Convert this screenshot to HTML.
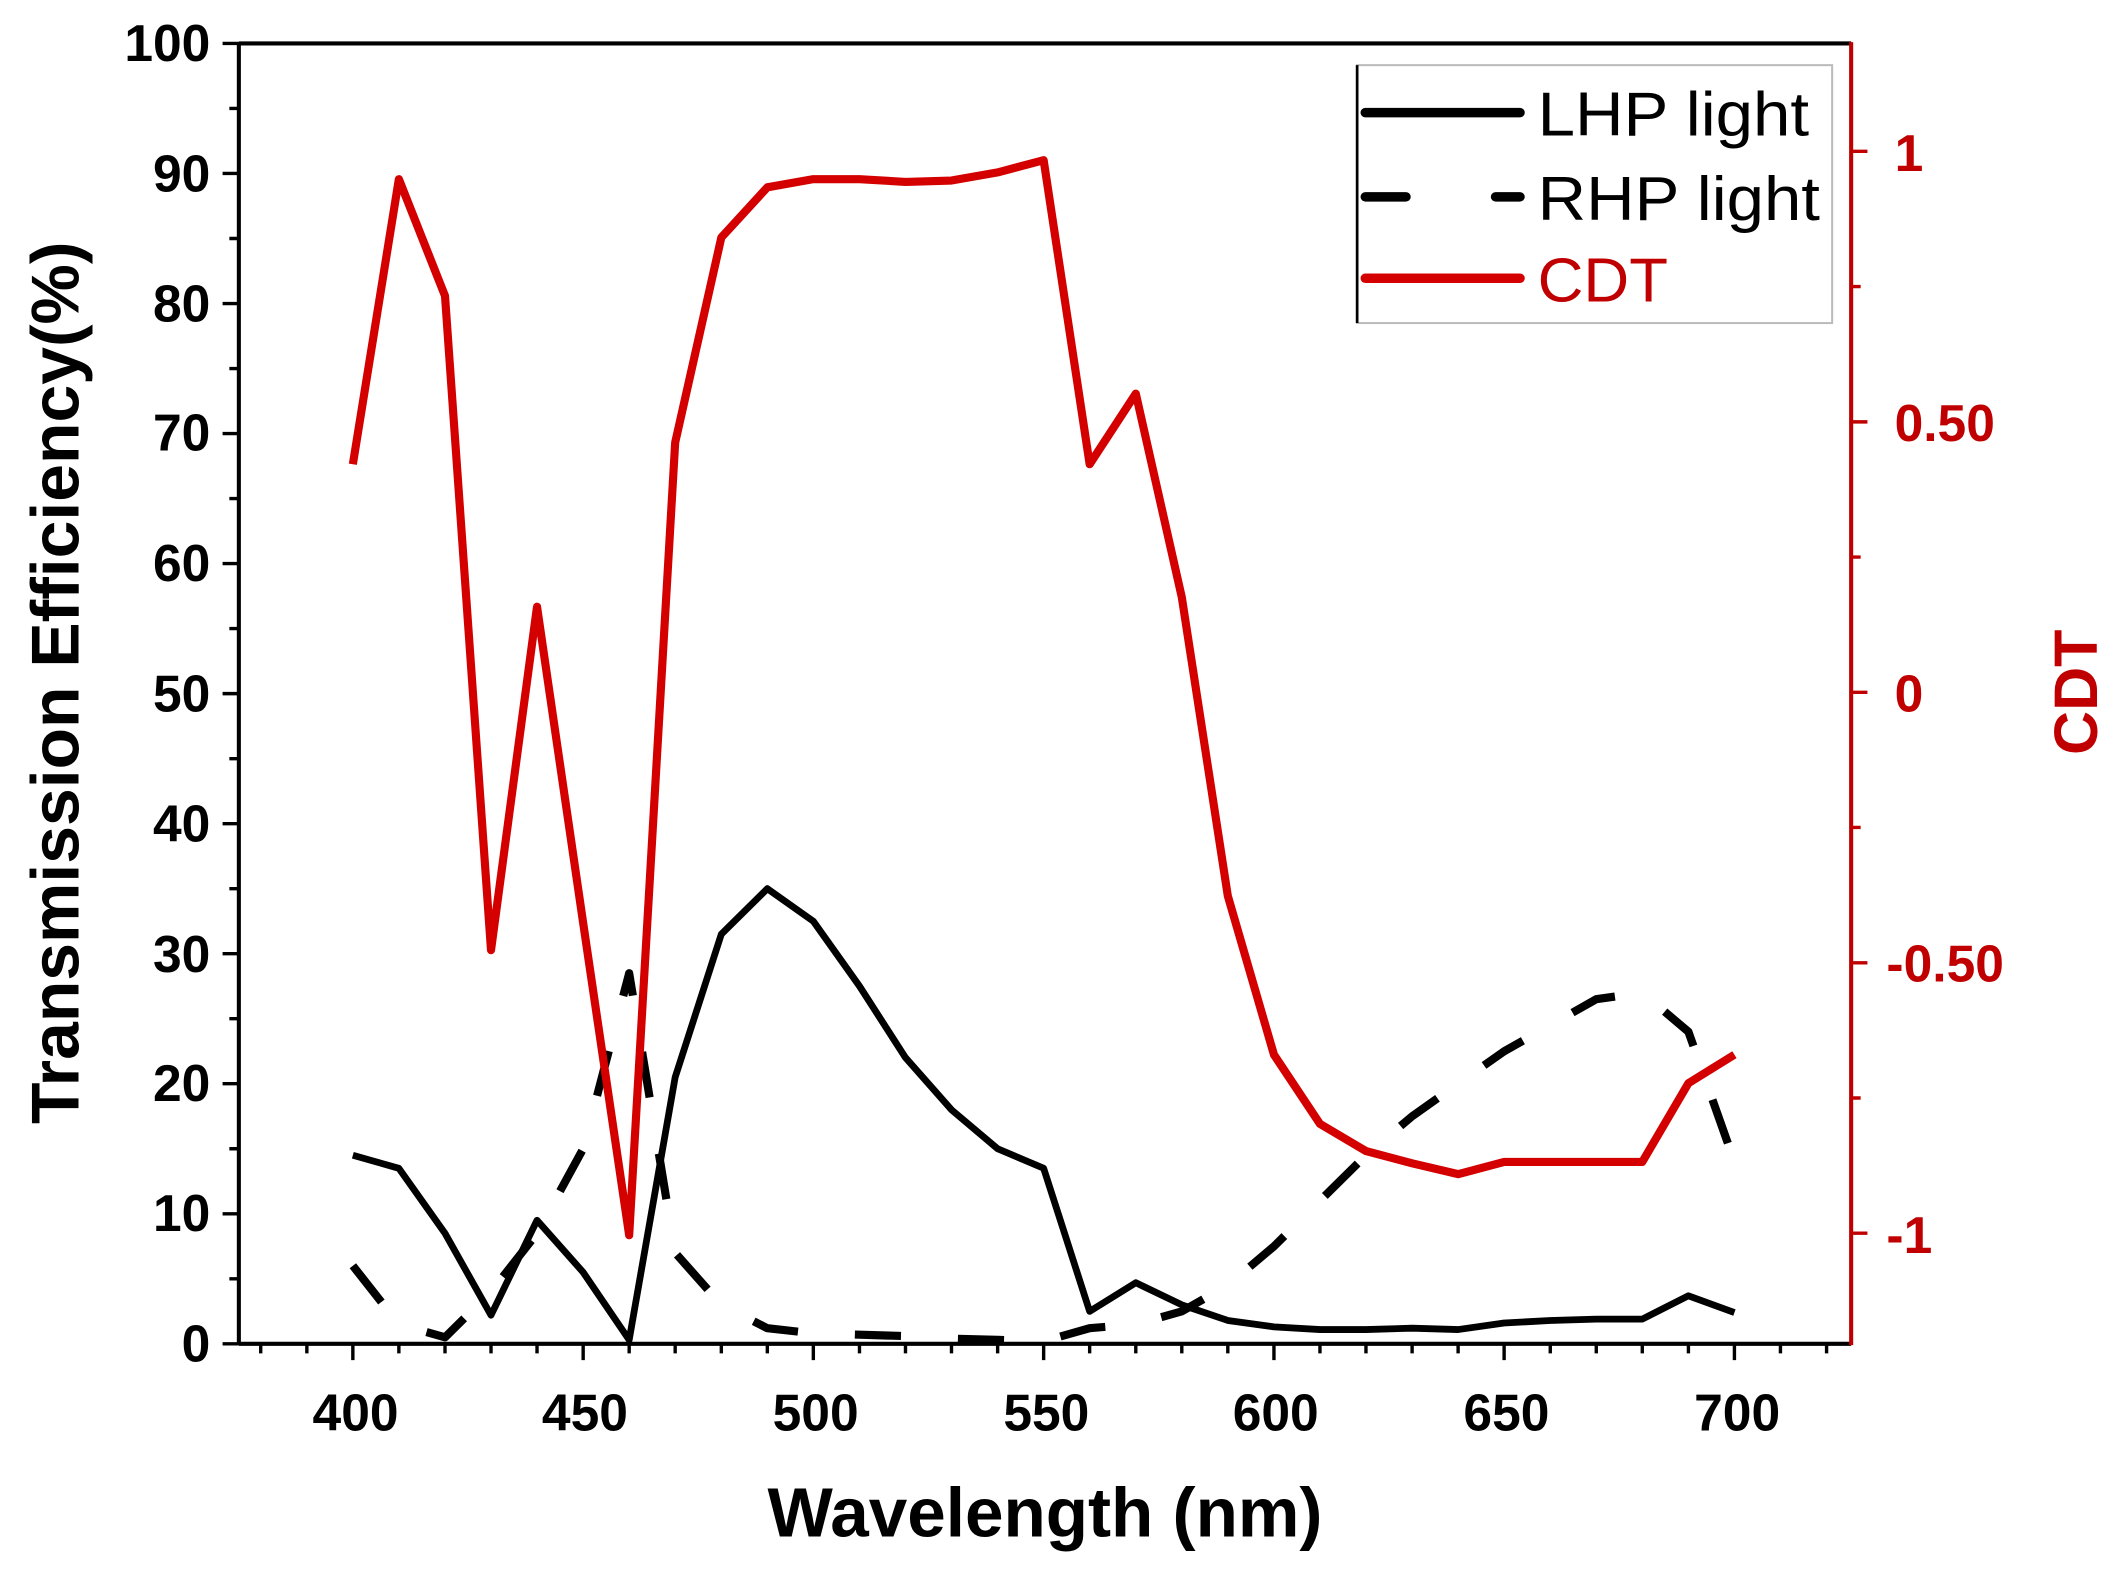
<!DOCTYPE html>
<html><head><meta charset="utf-8"><style>html,body{margin:0;padding:0;background:#fff}svg{display:block}</style></head>
<body>
<svg width="2128" height="1580" viewBox="0 0 1568 1164" preserveAspectRatio="none" xmlns="http://www.w3.org/2000/svg" font-family="Liberation Sans, sans-serif">
<rect width="1568" height="1164" fill="#fff"/>
<!-- frame -->
<line x1="176" y1="32" x2="1364" y2="32" stroke="#000" stroke-width="3"/>
<line x1="176" y1="31" x2="176" y2="991" stroke="#000" stroke-width="3"/>
<line x1="176" y1="990" x2="1364" y2="990" stroke="#000" stroke-width="3"/>
<line x1="1364" y1="31" x2="1364" y2="991" stroke="#c00000" stroke-width="3"/>
<!-- left ticks -->
<path stroke="#000" stroke-width="2.5" d="M176 990H164M176 942.1H169M176 894.2H164M176 846.3H169M176 798.4H164M176 750.5H169M176 702.6H164M176 654.7H169M176 606.8H164M176 558.9H169M176 511H164M176 463.1H169M176 415.2H164M176 367.3H169M176 319.4H164M176 271.5H169M176 223.6H164M176 175.7H169M176 127.8H164M176 79.9H169M176 32H164"/>
<g font-size="38" font-weight="bold" text-anchor="end">
<text x="155" y="1003">0</text><text x="155" y="907">10</text><text x="155" y="811">20</text><text x="155" y="716">30</text><text x="155" y="620">40</text><text x="155" y="524">50</text><text x="155" y="428">60</text><text x="155" y="332">70</text><text x="155" y="237">80</text><text x="155" y="141">90</text><text x="155" y="45">100</text>
</g>
<!-- bottom ticks -->
<path stroke="#000" stroke-width="2.5" d="M192.1 990v7M226.1 990v7M260 990v12M293.9 990v7M327.9 990v7M361.8 990v7M395.7 990v7M429.7 990v12M463.6 990v7M497.5 990v7M531.5 990v7M565.4 990v7M599.3 990v12M633.3 990v7M667.2 990v7M701.1 990v7M735.1 990v7M769 990v12M802.9 990v7M836.9 990v7M870.8 990v7M904.7 990v7M938.7 990v12M972.6 990v7M1006.5 990v7M1040.5 990v7M1074.4 990v7M1108.3 990v12M1142.3 990v7M1176.2 990v7M1210.1 990v7M1244.1 990v7M1278 990v12M1311.9 990v7M1345.9 990v7"/>
<g font-size="38" font-weight="bold" text-anchor="middle">
<text x="262" y="1054">400</text><text x="431" y="1054">450</text><text x="601" y="1054">500</text><text x="771" y="1054">550</text><text x="940" y="1054">600</text><text x="1110" y="1054">650</text><text x="1280" y="1054">700</text>
</g>
<!-- right ticks -->
<path stroke="#c00000" stroke-width="2.5" d="M1364 908.5h12M1364 808.9h7M1364 709.3h12M1364 609.6h7M1364 510h12M1364 410.4h7M1364 310.8h12M1364 211.1h7M1364 111.5h12"/>
<g font-size="38" font-weight="bold" fill="#c00000">
<text x="1396" y="126">1</text><text x="1396" y="325">0.50</text><text x="1396" y="524">0</text><text x="1390" y="723">-0.50</text><text x="1390" y="923">-1</text>
</g>
<!-- labels -->
<text x="770" y="1132" text-anchor="middle" font-size="51" font-weight="bold">Wavelength (nm)</text>
<text transform="translate(58,503) rotate(-90)" text-anchor="middle" font-size="50" font-weight="bold">Transmission Efficiency(%)</text>
<text transform="translate(1545,510) rotate(-90)" text-anchor="middle" font-size="45" font-weight="bold" fill="#c00000">CDT</text>
<!-- series -->
<polyline fill="none" stroke="#000" stroke-width="6" stroke-dasharray="34,42" stroke-linejoin="round" points="260,932.5 293.9,975.6 327.9,985.2 361.8,951.7 395.7,908.6 429.7,846.3 463.6,717 497.5,922.9 531.5,961.3 565.4,978.5 599.3,982.3 633.3,983.3 667.2,984.3 701.1,986.2 735.1,987.1 769,988.1 802.9,978.5 836.9,975.6 870.8,966.1 904.7,946.9 938.7,918.2 972.6,884.6 1006.5,851.1 1040.5,822.4 1074.4,798.4 1108.3,774.5 1142.3,755.3 1176.2,736.1 1210.1,731.3 1244.1,760.1 1278,855.9"/>
<polyline fill="none" stroke="#000" stroke-width="5" stroke-linejoin="round" points="260,851.1 293.9,860.7 327.9,908.6 361.8,968.9 395.7,899 429.7,937.3 463.6,987.1 497.5,793.6 531.5,688.2 565.4,654.7 599.3,678.7 633.3,726.5 667.2,779.2 701.1,817.6 735.1,846.3 769,860.7 802.9,966.1 836.9,945 870.8,961.3 904.7,972.8 938.7,977.5 972.6,979.5 1006.5,979.5 1040.5,978.5 1074.4,979.5 1108.3,974.7 1142.3,972.8 1176.2,971.8 1210.1,971.8 1244.1,954.6 1278,967"/>
<polyline fill="none" stroke="#d40000" stroke-width="6" stroke-linejoin="round" points="260,342 293.9,132 327.9,218 361.8,700 395.7,447 429.7,680 463.6,910 497.5,326 531.5,175 565.4,138 599.3,132 633.3,132 667.2,134 701.1,133 735.1,127 769,118 802.9,342 836.9,290 870.8,440 904.7,660 938.7,777 972.6,828 1006.5,848 1040.5,857 1074.4,865 1108.3,856 1142.3,856 1176.2,856 1210.1,856 1244.1,798 1278,777"/>
<!-- legend -->
<rect x="1000" y="48" width="350" height="190" fill="#fff" stroke="#bbb" stroke-width="1.5"/>
<line x1="1000" y1="48" x2="1000" y2="238" stroke="#000" stroke-width="2"/>
<line x1="1006" y1="83" x2="1120" y2="83" stroke="#000" stroke-width="7" stroke-linecap="round"/>
<text x="1133" y="100" font-size="46" textLength="200" lengthAdjust="spacingAndGlyphs">LHP light</text>
<line x1="1006" y1="145" x2="1036" y2="145" stroke="#000" stroke-width="7" stroke-linecap="round"/>
<line x1="1102" y1="145" x2="1120" y2="145" stroke="#000" stroke-width="7" stroke-linecap="round"/>
<text x="1133" y="162" font-size="46" textLength="208" lengthAdjust="spacingAndGlyphs">RHP light</text>
<line x1="1006" y1="205" x2="1120" y2="205" stroke="#d40000" stroke-width="7" stroke-linecap="round"/>
<text x="1133" y="222" font-size="46" fill="#c00000" textLength="96" lengthAdjust="spacingAndGlyphs">CDT</text>
</svg>
</body></html>
